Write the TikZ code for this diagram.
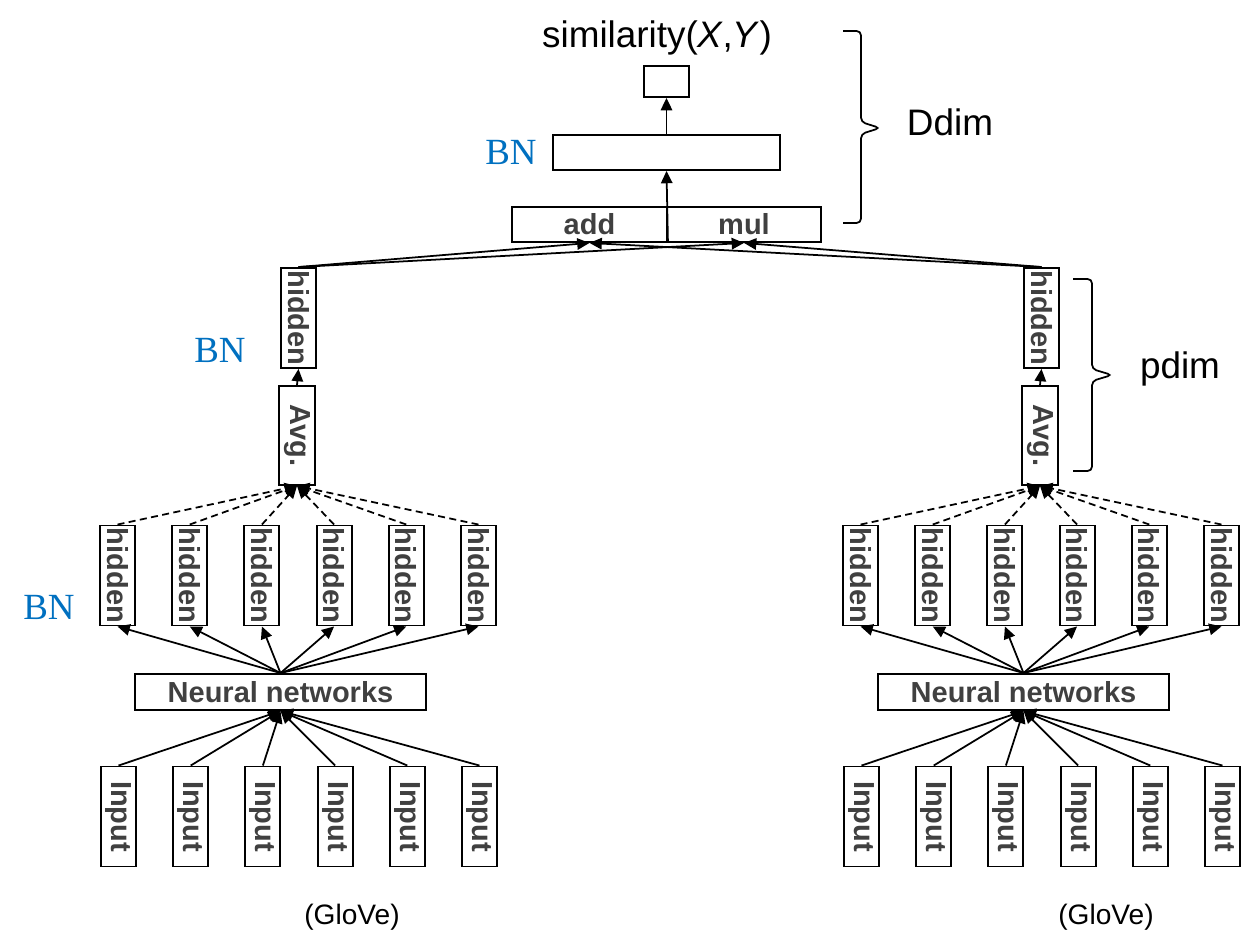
\documentclass[tikz,border=0pt]{standalone}
\usepackage{fontspec}
\setmainfont{Liberation Sans}
\newfontfamily\bnserif{Liberation Serif}
\usetikzlibrary{arrows.meta}
\definecolor{labelgray}{HTML}{404040}
\definecolor{bnblue}{HTML}{0070C0}
\tikzset{
  box/.style={draw, line width=1.1pt, inner sep=0pt},
  vbox/.style={box, minimum width=0.7cm, minimum height=2cm},
  boldtxt/.style={text=labelgray, font=\fontsize{16.5}{18}\selectfont\bfseries},
  vtxt/.style={boldtxt, rotate=-90},
  arr/.style={-{Triangle[length=7pt,width=6.5pt]}, line width=1pt},
  bnlabel/.style={text=bnblue, font=\bnserif\fontsize{21}{22}\selectfont},
  biglabel/.style={font=\fontsize{21}{22}\selectfont},
}

\begin{document}
\begin{tikzpicture}[x=0.02cm, y=-0.02cm]
  \useasboundingbox (0,0) rectangle (1251,952);

  % merge layers on top
  \node[box, minimum width=3.1cm, minimum height=0.7cm, boldtxt] (add) at (589.5,224.5) {add};
  \node[box, minimum width=3.08cm, minimum height=0.7cm, boldtxt] (mul) at (744,224.5) {mul};
  \node[box, minimum width=4.54cm, minimum height=0.7cm] (dense) at (666.5,152.5) {};
  \node[box, minimum width=0.9cm, minimum height=0.62cm] (out) at (666.5,81.5) {};
  \node[biglabel] (sim) at (657,38) {similarity(\textit{X},\textit{Y})};
  \node[bnlabel] (bn-dense) at (511,152) {BN};
  \draw[arr] (add.south east) -- (dense.south);
  \draw[arr] (dense.north) -- (out.south);

  % two towers
  \foreach \s/\dx in {l/0, r/743} {
    \begin{scope}[shift={(\dx,0)}]
      \node[box, minimum width=5.82cm, minimum height=0.72cm, boldtxt] (\s-nn) at (280.5,692) {Neural networks};
      \node[box, minimum width=0.72cm, minimum height=1.98cm] (\s-avg) at (297,435.5) {};
      \node[vtxt] at (\s-avg) {Avg.};
      \node[vbox] (\s-top) at (298.5,318) {};
      \node[vtxt] at (\s-top) {hidden};
      \draw[arr] (\s-avg.north) -- (\s-top.south);
      \foreach \i in {0,...,5} {
        \node[vbox] (\s-h\i) at (117.5+72.2*\i,575.5) {};
        \node[vtxt] at (\s-h\i) {hidden};
        \node[vbox] (\s-in\i) at (118.5+72.2*\i,816.5) {};
        \node[vtxt] at (\s-in\i) {Input};
        \draw[arr] (\s-nn.north) -- (\s-h\i.south);
        \draw[arr] (\s-in\i.north) -- (\s-nn.south);
        \draw[arr, dash pattern=on 4pt off 2.5pt] (\s-h\i.north) -- (\s-avg.south);
      }
    \end{scope}
  }
  \node[bnlabel] (bn-h) at (49,607) {BN};
  \node[bnlabel] (bn-top) at (220,350) {BN};
  \node[font=\fontsize{16}{18}\selectfont] (l-glove) at (352,917) {(GloVe)};
  \node[font=\fontsize{16}{18}\selectfont] (r-glove) at (1106,917) {(GloVe)};

  % tower outputs into add / mul
  \foreach \s in {l,r} {
    \draw[arr] (\s-top.north) -- (add.south);
    \draw[arr] (\s-top.north) -- (mul.south);
  }

  % braces
  \draw[line width=1pt, rounded corners=2.5pt] (843,31) -| (861,122) -- (880,128) -- (861,134) |- (843,223);
  \node[biglabel] (ddim) at (950,122) {Ddim};
  \draw[line width=1pt, rounded corners=2.5pt] (1073,279) -| (1092,369) -- (1112,375) -- (1092,381) |- (1073,471);
  \node[biglabel] (pdim) at (1180,369) {pdim};
\end{tikzpicture}
\end{document}
